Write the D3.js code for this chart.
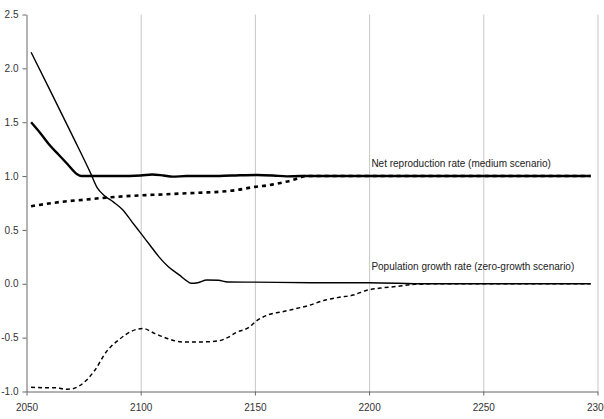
<!DOCTYPE html>
<html>
<head>
<meta charset="utf-8">
<title>Net reproduction rate and population growth rate</title>
<script src="https://cdn.jsdelivr.net/npm/d3@7/dist/d3.min.js"></script>
<style type="text/css">
	body{ margin:0; background:#fff; }
	text{ font-family: "Liberation Sans", Arial, sans-serif; }
	.tick text{ font-size:10px; fill:#333; }
	.tick line, path.domain{ stroke:#666; }
	.grid line{ stroke:#c8c8c8; }
	.grid path.domain{ display:none; }
</style>
</head>
<body>
<div id="chart"></div>
<script type="text/javascript">
/* x ticks / y ticks */
var x_ticks = [2050, 2100, 2150, 2200, 2250, 2300];
var y_ticks = [-1.0, -0.5, 0.0, 0.5, 1.0, 1.5, 2.0, 2.5];

/* net reproduction rate, medium scenario (thick solid) */
var nrr_med_years = [2052, 2056, 2060, 2064, 2068, 2072, 2074, 2080, 2090, 2100, 2105, 2110, 2114, 2120, 2130, 2140, 2151, 2158, 2164, 2170, 2180, 2200, 2250, 2297];
var nrr_med = [1.50, 1.40, 1.29, 1.20, 1.11, 1.02, 1.00, 1.00, 1.00, 1.005, 1.015, 1.005, 0.995, 1.00, 1.00, 1.005, 1.01, 1.005, 0.997, 1.00, 1.00, 1.00, 1.00, 1.00];

/* net reproduction rate, zero-growth scenario (thick dashed) */
var nrr_zero_years = [2052, 2058, 2065, 2075, 2085, 2099, 2110, 2120, 2128, 2135, 2142, 2150, 2156, 2162, 2166, 2169, 2172, 2180, 2297];
var nrr_zero = [0.72, 0.74, 0.76, 0.78, 0.80, 0.82, 0.83, 0.84, 0.847, 0.855, 0.87, 0.90, 0.915, 0.94, 0.96, 0.98, 1.00, 1.00, 1.00];

/* population growth rate, medium scenario (thin solid) */
var pgr_med_years = [2052, 2060, 2070, 2078, 2081, 2084, 2088, 2092, 2096, 2100, 2104, 2108, 2112, 2117, 2120, 2122, 2125, 2129, 2134, 2138, 2150, 2175, 2200, 2225, 2297];
var pgr_med = [2.15, 1.81, 1.38, 1.03, 0.89, 0.82, 0.76, 0.69, 0.58, 0.47, 0.36, 0.25, 0.16, 0.08, 0.03, 0.005, 0.01, 0.035, 0.033, 0.017, 0.015, 0.01, 0.01, 0.0, 0.0];

/* population growth rate, zero-growth scenario (thin dashed) */
var pgr_zero_years = [2052, 2058, 2063, 2067, 2070, 2073, 2076, 2080, 2085, 2091, 2096, 2101, 2106, 2112, 2118, 2126, 2134, 2138, 2142, 2147, 2151, 2157, 2162, 2168, 2173, 2181, 2187, 2193, 2199, 2205, 2212, 2220, 2230, 2297];
var pgr_zero = [-0.96, -0.965, -0.965, -0.98, -0.975, -0.95, -0.90, -0.80, -0.63, -0.51, -0.44, -0.415, -0.46, -0.51, -0.54, -0.54, -0.53, -0.50, -0.45, -0.41, -0.34, -0.28, -0.26, -0.23, -0.205, -0.15, -0.125, -0.105, -0.06, -0.04, -0.025, -0.005, 0, 0];

var label_nrr = "Net reproduction rate (medium scenario)";
var label_pgr = "Population growth rate (zero-growth scenario)";

var w = 604, h = 419;
var svg = d3.select("#chart").append("svg").attr("width", w).attr("height", h);

var x_scale = d3.scaleLinear().domain([2050, 2300]).range([26.5, 597.5]);
var y_scale = d3.scaleLinear().domain([-1, 2.5]).range([391.5, 14.5]);

/* vertical grid lines */
svg.append("g").attr("class", "grid")
	.attr("transform", "translate(0," + y_scale(-1) + ")")
	.call(d3.axisBottom(x_scale).tickValues(x_ticks.slice(1)).tickSize(-(y_scale(-1) - y_scale(2.5))).tickFormat(""));

/* axes */
svg.append("g")
	.attr("transform", "translate(0," + y_scale(-1) + ")")
	.call(d3.axisBottom(x_scale).tickValues(x_ticks).tickSize(4).tickSizeOuter(0).tickPadding(8).tickFormat(d3.format("d")));
svg.append("g")
	.attr("transform", "translate(" + x_scale(2050) + ",0)")
	.call(d3.axisLeft(y_scale).tickValues(y_ticks).tickSize(4).tickSizeOuter(0).tickPadding(4)
		.tickFormat(function(d){ return d3.format(".1f")(d).replace("\u2212", "-"); }));

/* series lines */
function draw_line(years, values, width, dash){
	var pts = years.map(function(y, i){ return [y, values[i]]; });
	var line = d3.line().curve(d3.curveMonotoneX)
		.x(function(d){ return x_scale(d[0]); })
		.y(function(d){ return y_scale(d[1]); });
	svg.append("path").attr("d", line(pts))
		.attr("fill", "none").attr("stroke", "#000")
		.attr("stroke-width", width)
		.attr("stroke-dasharray", dash);
}
draw_line(pgr_med_years, pgr_med, 1.4, null);
draw_line(nrr_med_years, nrr_med, 2.4, null);
draw_line(pgr_zero_years, pgr_zero, 1.5, "4,3");
draw_line(nrr_zero_years, nrr_zero, 2.6, "4,4");

/* labels */
svg.append("text").attr("x", x_scale(2201)).attr("y", y_scale(1.085))
	.attr("font-size", "10px").attr("fill", "#222").text(label_nrr);
svg.append("text").attr("x", x_scale(2201)).attr("y", y_scale(0.13))
	.attr("font-size", "10px").attr("fill", "#222").text(label_pgr);
</script>
</body>
</html>
